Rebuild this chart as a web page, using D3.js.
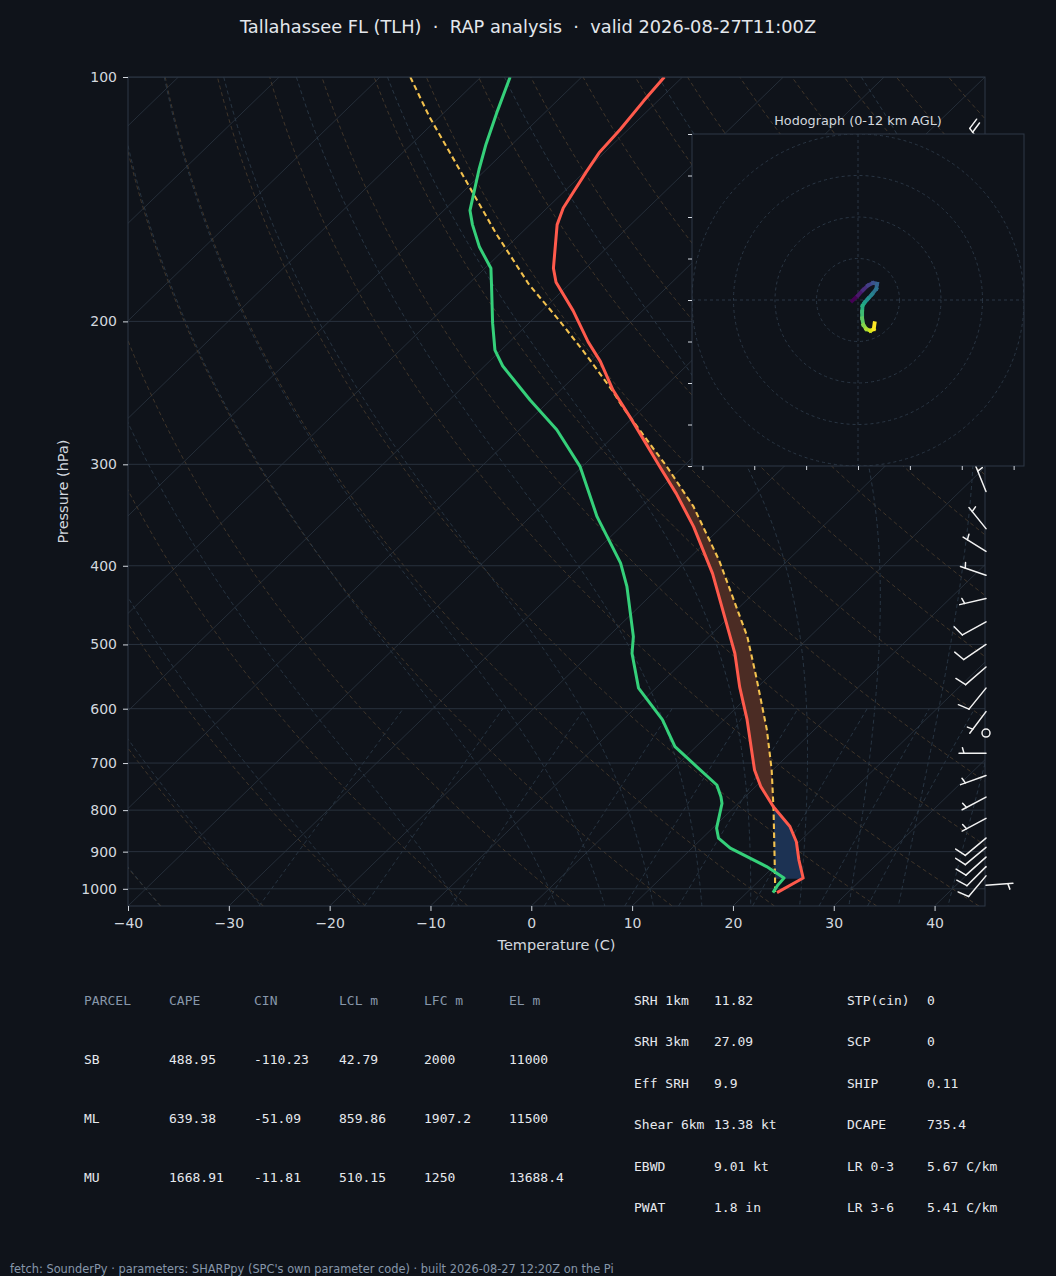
<!DOCTYPE html>
<html lang="en">
<head>
<meta charset="utf-8">
<title>Skew-T: Tallahassee FL (TLH)</title>
<script src="https://cdn.jsdelivr.net/npm/d3@7"></script>
<style>
  html, body { margin: 0; padding: 0; background: #0f131a; }
  svg { display: block; font-family: "DejaVu Sans", sans-serif; }
</style>
</head>
<body>
<svg id="chart" width="1056" height="1276"></svg>
<script>
// ---- sounding ----
var tempPres = [100, 107, 116, 124, 131, 145, 152, 172, 179, 194, 212, 224, 243, 263, 302, 326, 358, 409,
                489, 513, 564, 619, 714, 748, 792, 838, 875, 921, 970, 1011];
var tempC    = [-71.8, -71.4, -70.8, -70.5, -69.8, -68.4, -67.3, -63.2, -61.5, -56.9, -52.2, -49.0, -44.8,
                -40.2, -32.3, -27.9, -22.8, -16.1, -7.9, -5.7, -1.8, 2.3, 8.2, 10.5, 13.8, 17.5, 19.7,
                21.8, 24.1, 23.0];

var dewPres = [100, 110, 121, 130, 139, 146, 152, 162, 172, 180, 201, 217, 227, 250, 272, 302, 348,
               397, 424, 489, 513, 566, 619, 668, 707, 745, 770, 785, 842, 866, 891, 939, 970, 989, 1011];
var dewC    = [-87.1, -84.9, -82.6, -80.7, -78.8, -77.4, -75.7, -72.7, -69.4, -67.7, -63.6, -60.6,
               -58.2, -52.0, -46.3, -40.2, -33.4, -26.3, -23.3, -17.5, -15.9, -11.7, -6.1, -2.1, 2.1,
               6.0, 7.6, 8.4, 10.4, 11.6, 13.8, 19.3, 22.2, 22.3, 22.6];

// surface based parcel path
var parcelPres = [100, 112, 156, 180, 200, 217, 228.5, 243, 255, 302, 338, 394, 489, 548, 637, 714, 800, 975, 1011];
var parcelC    = [-97.0, -91.0, -72.4, -64.0, -57.1, -51.9, -48.7, -44.9, -42.1, -31.6, -24.9, -16.8,
                  -6.2, -1.2, 5.3, 9.9, 14.2, 21.5, 22.8];

// wind barbs (hPa, deg, kt)
var windPres = [123, 324, 360, 384, 411, 439, 469, 500, 533, 566, 605, 643, 681, 725, 771, 819,
                866, 889, 914, 939, 964, 990];
var windDir  = [323, 338, 321, 302, 289, 257, 241, 236, 229, 219, 217, 0, 270, 250, 242, 242,
                230, 230, 228, 225, 220, 86];
var windSpd  = [20, 5, 5, 5, 5, 5, 10, 10, 10, 10, 5, 0, 5, 5, 5, 5, 10, 10, 10, 10, 10, 5];

// hodograph trace 0-12 km (kt)
var hodoU = [-1.4, 0.0, 1.2, 2.4, 3.6, 4.6, 4.4, 3.4, 2.4, 1.6, 1.1, 1.0, 1.0, 1.3, 2.0, 3.0, 3.8, 4.0];
var hodoV = [-0.2, 1.1, 2.4, 3.5, 4.1, 3.9, 2.7, 1.4, 0.3, -0.6, -1.4, -2.8, -4.4, -6.0, -7.0, -7.4, -7.0, -5.6];

// axis ticks
var presTicks = [100, 200, 300, 400, 500, 600, 700, 800, 900, 1000];
var tempTicks = [-40, -30, -20, -10, 0, 10, 20, 30, 40];
var hodoTicksV = [-40, -30, -20, -10, 0, 10, 20, 30, 40];
var hodoTicksU = [-37.5, -25, -12.5, 0, 12.5, 25, 37.5];
var hodoRings = [10, 20, 30, 40];

// parameter tables
var parcelHeader = ["PARCEL", "CAPE", "CIN", "LCL m", "LFC m", "EL m"];
var parcelNames = ["SB", "ML", "MU"];
var parcelCape  = ["488.95", "639.38", "1668.91"];
var parcelCin   = ["-110.23", "-51.09", "-11.81"];
var parcelLcl   = ["42.79", "859.86", "510.15"];
var parcelLfc   = ["2000", "1907.2", "1250"];
var parcelEl    = ["11000", "11500", "13688.4"];

var paramLabelsA = ["SRH 1km", "SRH 3km", "Eff SRH", "Shear 6km", "EBWD", "PWAT"];
var paramValsA   = ["11.82", "27.09", "9.9", "13.38 kt", "9.01 kt", "1.8 in"];
var paramLabelsB = ["STP(cin)", "SCP", "SHIP", "DCAPE", "LR 0-3", "LR 3-6"];
var paramValsB   = ["0", "0", "0.11", "735.4", "5.67 C/km", "5.41 C/km"];

var titleText = "Tallahassee FL (TLH)  \u00b7  RAP analysis  \u00b7  valid 2026-08-27T11:00Z";
var footText = "fetch: SounderPy \u00b7 parameters: SHARPpy (SPC's own parameter code) \u00b7 built 2026-08-27 12:20Z on the Pi";

// ---- colours ----
var BG = "#0f131a", SPINE = "#2e3946", TXT = "#d3d8df", DIM = "#8797aa";

var svg = d3.select("#chart");
svg.append("rect").attr("width", 1056).attr("height", 1276).attr("fill", BG);

// plot frame
var axL = 128, axR = 985, axT = 77, axB = 906;
var xScale = d3.scaleLinear().domain([-40, 45]).range([axL, axR]);
var yScale = d3.scaleLog().domain([1050, 100]).range([axB, axT]);
var skewK = (axR - axL) / (axB - axT);   // 45 deg in axes units

function px(t, p) { return xScale(t) + (axB - yScale(p)) * skewK; }

function zipProfile(pres, vals) {
  return pres.map(function(p, i) { return {p: p, t: vals[i]}; });
}
var tempProf = zipProfile(tempPres, tempC);
var dewProf = zipProfile(dewPres, dewC);
var parcelProf = zipProfile(parcelPres, parcelC);

var line = d3.line().x(function(d) { return px(d.t, d.p); }).y(function(d) { return yScale(d.p); });

var defs = svg.append("defs");
defs.append("clipPath").attr("id", "plotClip").append("rect")
  .attr("x", axL).attr("y", axT).attr("width", axR - axL).attr("height", axB - axT);

var plot = svg.append("g").attr("clip-path", "url(#plotClip)");

// ---- background thermodynamic lines ----
var presFine = d3.range(0, 81).map(function(i) { return 1050 * Math.pow(100 / 1050, i / 80); });

// isotherms
d3.range(-160, 50, 10).forEach(function(t) {
  plot.append("line")
    .attr("x1", px(t, 1050)).attr("y1", yScale(1050))
    .attr("x2", px(t, 100)).attr("y2", yScale(100))
    .attr("stroke", "#252e39").attr("stroke-width", 1);
});

// dry adiabats
d3.range(-40, 250, 10).forEach(function(t0) {
  var theta = t0 + 273.15;
  var pts = presFine.map(function(p) { return {p: p, t: theta * Math.pow(p / 1000, 0.2857) - 273.15}; });
  plot.append("path").attr("d", line(pts)).attr("fill", "none")
    .attr("stroke", "#45392b").attr("stroke-width", 0.9).attr("stroke-dasharray", "4,3");
});

// moist adiabats (integrated from 1000 hPa)
function dTdp(p, T) {
  var Rd = 287.04, Cp = 1005.7, Lv = 2.501e6, eps = 0.622;
  var tc = T - 273.15;
  var es = 6.112 * Math.exp(17.67 * tc / (tc + 243.5));
  var rs = eps * es / (p - es);
  return (1 / p) * (Rd * T + Lv * rs) / (Cp + Lv * Lv * rs * eps / (Rd * T * T));
}
function moistPath(t0) {
  var out = [];
  [[-5, 100], [5, 1050]].forEach(function(run) {
    var T = t0 + 273.15, p = 1000, dp = run[0];
    var seg = [{p: p, t: T - 273.15}];
    while ((dp < 0 && p > run[1]) || (dp > 0 && p < run[1])) {
      var k1 = dTdp(p, T), k2 = dTdp(p + dp / 2, T + dp / 2 * k1),
          k3 = dTdp(p + dp / 2, T + dp / 2 * k2), k4 = dTdp(p + dp, T + dp * k3);
      T += dp / 6 * (k1 + 2 * k2 + 2 * k3 + k4);
      p += dp;
      seg.push({p: p, t: T - 273.15});
    }
    if (dp < 0) out = seg.reverse().concat(out); else out = out.concat(seg.slice(1));
  });
  return out;
}
[-40, -30, -20, -10, 0, 5, 10, 15, 20, 25, 30, 35, 40, 45].forEach(function(t0) {
  plot.append("path").attr("d", line(moistPath(t0))).attr("fill", "none")
    .attr("stroke", "#2a3947").attr("stroke-width", 0.9).attr("stroke-dasharray", "4,3");
});

// mixing ratio lines
[0.0004, 0.001, 0.002, 0.004, 0.007, 0.01, 0.016, 0.024, 0.032].forEach(function(w) {
  var pts = d3.range(1050, 595, -5).map(function(p) {
    var e = p * w / (0.622 + w), l = Math.log(e / 6.112);
    return {p: p, t: 243.5 * l / (17.67 - l)};
  });
  plot.append("path").attr("d", line(pts)).attr("fill", "none")
    .attr("stroke", "#2a3947").attr("stroke-width", 0.9).attr("stroke-dasharray", "4,3");
});

// isobars
presTicks.forEach(function(p) {
  plot.append("line").attr("x1", axL).attr("x2", axR)
    .attr("y1", yScale(p)).attr("y2", yScale(p))
    .attr("stroke", "#29323e").attr("stroke-width", 1);
});

// ---- CAPE / CIN shading ----
function sidePoly(prof, side) {
  // the profile closed off to the far left (-1) or far right (+1)
  var far = side < 0 ? -3000 : 4000;
  var pts = prof.map(function(d) { return [px(d.t, d.p), yScale(d.p)]; });
  var first = pts[0], last = pts[pts.length - 1];
  return "M" + far + "," + first[1] + "L" + pts.map(function(q) { return q.join(","); }).join("L") +
         "L" + far + "," + last[1] + "Z";
}
defs.append("clipPath").attr("id", "envRight").append("path").attr("d", sidePoly(tempProf, 1));
defs.append("clipPath").attr("id", "parcelRight").append("path").attr("d", sidePoly(parcelProf, 1));
defs.append("clipPath").attr("id", "cinBand").append("rect")
  .attr("x", axL).attr("width", axR - axL)
  .attr("y", yScale(650)).attr("height", yScale(972) - yScale(650));

plot.append("g").attr("clip-path", "url(#envRight)")
  .append("path").attr("d", sidePoly(parcelProf, -1)).attr("fill", "#4b2c24");
plot.append("g").attr("clip-path", "url(#parcelRight)")
  .append("g").attr("clip-path", "url(#cinBand)")
  .append("path").attr("d", sidePoly(tempProf, -1)).attr("fill", "#1c3253");

// ---- profiles ----
plot.append("path").attr("d", line(parcelProf)).attr("fill", "none")
  .attr("stroke", "#f2c14e").attr("stroke-width", 2.1).attr("stroke-dasharray", "5.5,3.5");
plot.append("path").attr("d", line(dewProf)).attr("fill", "none")
  .attr("stroke", "#35d07a").attr("stroke-width", 3).attr("stroke-linejoin", "round");
plot.append("path").attr("d", line(tempProf)).attr("fill", "none")
  .attr("stroke", "#ff5a4c").attr("stroke-width", 3).attr("stroke-linejoin", "round");

// ---- axes ----
svg.append("rect").attr("x", axL).attr("y", axT).attr("width", axR - axL).attr("height", axB - axT)
  .attr("fill", "none").attr("stroke", SPINE).attr("stroke-width", 1);

var yAxis = svg.append("g").attr("transform", "translate(" + axL + ",0)")
  .call(d3.axisLeft(yScale).tickValues(presTicks).tickFormat(d3.format("d")).tickSize(5).tickPadding(6));
var xAxis = svg.append("g").attr("transform", "translate(0," + axB + ")")
  .call(d3.axisBottom(xScale).tickValues(tempTicks).tickSize(5).tickPadding(7));
[yAxis, xAxis].forEach(function(ax) {
  ax.select(".domain").remove();
  ax.selectAll(".tick line").attr("stroke", TXT);
  ax.selectAll(".tick text").attr("fill", TXT).attr("font-size", 14)
    .attr("font-family", "DejaVu Sans, sans-serif");
});

svg.append("text").attr("x", (axL + axR) / 2).attr("y", 949.5).attr("text-anchor", "middle")
  .attr("fill", TXT).attr("font-size", 14.5).text("Temperature (C)");
svg.append("text").attr("transform", "translate(68," + (axT + axB) / 2 + ") rotate(-90)")
  .attr("text-anchor", "middle").attr("fill", TXT).attr("font-size", 14.5).text("Pressure (hPa)");

// ---- wind barbs ----
function drawBarb(g, x0, y0, dir, spd) {
  var L = 27;
  if (spd < 2.5) {
    g.append("circle").attr("cx", x0).attr("cy", y0).attr("r", 4)
      .attr("fill", "none").attr("stroke", "#f2f2f2").attr("stroke-width", 1.5);
    return;
  }
  var r = dir * Math.PI / 180;
  var sx = Math.sin(r), sy = -Math.cos(r);      // staff points to where the wind comes from
  var qx = -sy, qy = sx;                         // side the ticks sit on
  var tipX = x0 + L * sx, tipY = y0 + L * sy;
  g.append("line").attr("x1", x0).attr("y1", y0).attr("x2", tipX).attr("y2", tipY);
  var v = Math.round(spd / 5) * 5;
  var nFull = Math.floor(v / 10), nHalf = (v % 10) ? 1 : 0;
  var pos = L, sp = 0.125 * L * 1.4;
  for (var i = 0; i < nFull; i++) {
    var bx = x0 + pos * sx, by = y0 + pos * sy;
    g.append("line").attr("x1", bx).attr("y1", by)
      .attr("x2", bx + 0.41 * L * qx + 0.12 * L * sx).attr("y2", by + 0.41 * L * qy + 0.12 * L * sy);
    pos -= sp;
  }
  if (nHalf) {
    if (pos === L) pos -= 1.5 * 0.125 * L;
    var hx = x0 + pos * sx, hy = y0 + pos * sy;
    g.append("line").attr("x1", hx).attr("y1", hy)
      .attr("x2", hx + 0.205 * L * qx + 0.06 * L * sx).attr("y2", hy + 0.205 * L * qy + 0.06 * L * sy);
  }
}
var barbs = svg.append("g").attr("stroke", "#f2f2f2").attr("stroke-width", 1.5).attr("stroke-linecap", "round");
windPres.forEach(function(p, i) { drawBarb(barbs, axR + 1, yScale(p), windDir[i], windSpd[i]); });

// ---- hodograph inset ----
var hx0 = 692, hy0 = 134, hs = 332;
var hu = d3.scaleLinear().domain([-40, 40]).range([hx0, hx0 + hs]);
var hv = d3.scaleLinear().domain([-40, 40]).range([hy0 + hs, hy0]);
defs.append("clipPath").attr("id", "hodoClip").append("rect")
  .attr("x", hx0).attr("y", hy0).attr("width", hs).attr("height", hs);

var hodo = svg.append("g");
hodo.append("rect").attr("x", hx0).attr("y", hy0).attr("width", hs).attr("height", hs).attr("fill", BG);
var hodoIn = hodo.append("g").attr("clip-path", "url(#hodoClip)");
hodoRings.forEach(function(rr) {
  hodoIn.append("circle").attr("cx", hu(0)).attr("cy", hv(0)).attr("r", hu(rr) - hu(0))
    .attr("fill", "none").attr("stroke", "#2a3644").attr("stroke-width", 1).attr("stroke-dasharray", "3,3");
});
hodoIn.append("line").attr("x1", hx0).attr("x2", hx0 + hs).attr("y1", hv(0)).attr("y2", hv(0))
  .attr("stroke", "#2a3644").attr("stroke-dasharray", "3,3");
hodoIn.append("line").attr("y1", hy0).attr("y2", hy0 + hs).attr("x1", hu(0)).attr("x2", hu(0))
  .attr("stroke", "#2a3644").attr("stroke-dasharray", "3,3");

var nH = hodoU.length;
for (var k = 0; k < nH - 1; k++) {
  hodoIn.append("line")
    .attr("x1", hu(hodoU[k])).attr("y1", hv(hodoV[k]))
    .attr("x2", hu(hodoU[k + 1])).attr("y2", hv(hodoV[k + 1]))
    .attr("stroke", d3.interpolateViridis(k / (nH - 2)))
    .attr("stroke-width", 3.8).attr("stroke-linecap", "square");
}
hodo.append("rect").attr("x", hx0).attr("y", hy0).attr("width", hs).attr("height", hs)
  .attr("fill", "none").attr("stroke", SPINE);

var hLeft = hodo.append("g").attr("transform", "translate(" + hx0 + ",0)")
  .call(d3.axisLeft(hv).tickValues(hodoTicksV).tickSize(4).tickFormat(""));
var hBot = hodo.append("g").attr("transform", "translate(0," + (hy0 + hs) + ")")
  .call(d3.axisBottom(hu).tickValues(hodoTicksU).tickSize(4).tickFormat(""));
[hLeft, hBot].forEach(function(ax) {
  ax.select(".domain").remove();
  ax.selectAll(".tick line").attr("stroke", TXT);
});
hodo.append("text").attr("x", hx0 + hs / 2).attr("y", 124.5).attr("text-anchor", "middle")
  .attr("fill", TXT).attr("font-size", 12.8).text("Hodograph (0-12 km AGL)");

// ---- title ----
svg.append("text").attr("x", 528).attr("y", 33).attr("text-anchor", "middle")
  .attr("fill", "#e3e7ec").attr("font-size", 17.8).style("white-space", "pre").text(titleText);

// ---- parcel table ----
var mono = "DejaVu Sans Mono, monospace";
var colX = [84, 169, 254, 339, 424, 509];
var rowY = [1000, 1059, 1118, 1177];
var tbl = svg.append("g").attr("font-family", mono).attr("font-size", 13);
parcelHeader.forEach(function(h, j) {
  tbl.append("text").attr("x", colX[j]).attr("y", rowY[0] + 4.5).attr("fill", DIM).text(h);
});
parcelNames.forEach(function(n, i) {
  var row = [n, parcelCape[i], parcelCin[i], parcelLcl[i], parcelLfc[i], parcelEl[i]];
  row.forEach(function(v, j) {
    tbl.append("text").attr("x", colX[j]).attr("y", rowY[i + 1] + 4.5).attr("fill", "#e6e9ee").text(v);
  });
});

// ---- parameter table ----
var pRowY = [1000, 1041.5, 1083, 1124.5, 1166, 1207.5];
paramLabelsA.forEach(function(lab, i) {
  var y = pRowY[i] + 4.5;
  tbl.append("text").attr("x", 634).attr("y", y).attr("fill", "#e6e9ee").text(lab);
  tbl.append("text").attr("x", 714).attr("y", y).attr("fill", "#e6e9ee").text(paramValsA[i]);
  tbl.append("text").attr("x", 847).attr("y", y).attr("fill", "#e6e9ee").text(paramLabelsB[i]);
  tbl.append("text").attr("x", 927).attr("y", y).attr("fill", "#e6e9ee").text(paramValsB[i]);
});

// ---- footer ----
svg.append("text").attr("x", 10).attr("y", 1273).attr("fill", DIM)
  .attr("font-size", 11.4).text(footText);
</script>
</body>
</html>
